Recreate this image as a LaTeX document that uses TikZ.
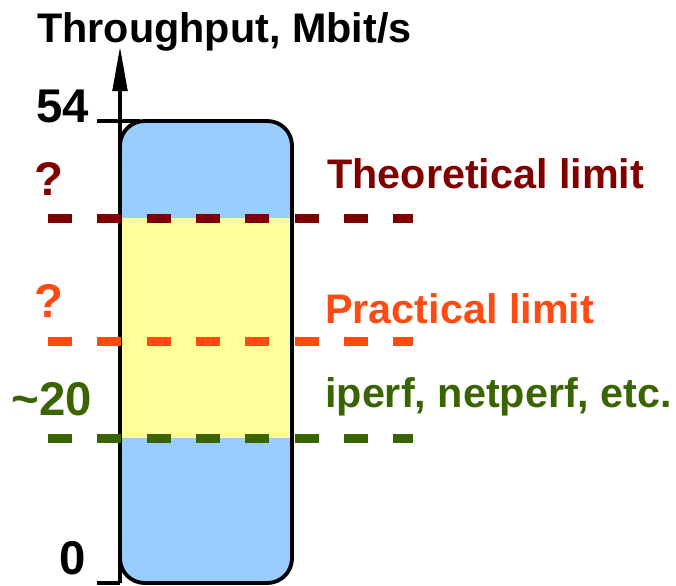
\documentclass[tikz,border=0pt]{standalone}
\usepackage{fontspec}
\setmainfont{Liberation Sans}
\usetikzlibrary{arrows.meta}
\definecolor{cTheo}{HTML}{800000}
\definecolor{cPrac}{HTML}{FF4A12}
\definecolor{cIperf}{HTML}{3A6400}
\definecolor{cBlue}{HTML}{99CCFF}
\definecolor{cYellow}{HTML}{FFFF99}
\begin{document}
\begin{tikzpicture}[x=0.75pt,y=-0.75pt,
  lbl/.style={font=\bfseries\fontsize{31}{36}\selectfont, inner sep=0pt},
  big/.style={font=\bfseries\fontsize{35.5}{42}\selectfont, inner sep=0pt},
  limitline/.style={line width=6.75pt, dash pattern=on 18pt off 19pt},
  axisline/.style={line width=2.4pt, black},
  barborder/.style={line width=2.9pt, rounded corners=18.5pt}]
\useasboundingbox (0,0) rectangle (676,586);
% bar
\fill[cBlue, rounded corners=18.5pt] (120,121) rectangle (292,583);
\fill[cYellow] (120,218) rectangle (292,438);
\draw[barborder] (120,121) rectangle (292,583);
% axis
\coordinate (axbot) at (120,583);
\coordinate (axtop) at (120,47);
\draw[axisline, -{Triangle[length=33pt,width=11pt]}] (axbot) -- (axtop);
\coordinate (t54a) at (97,121);
\coordinate (t54b) at (140,121);
\draw[axisline] (t54a) -- (t54b);
\coordinate (t0a) at (97,583);
\draw[axisline] (t0a) -- (axbot);
% limit lines
\coordinate (theoA) at (48,218);
\coordinate (theoB) at (413,218);
\coordinate (pracA) at (48,341);
\coordinate (pracB) at (413,341);
\coordinate (ipA) at (48,438);
\coordinate (ipB) at (413,438);
\draw[limitline, cTheo] (theoA) -- (theoB);
\draw[limitline, cPrac] (pracA) -- (pracB);
\draw[limitline, cIperf] (ipA) -- (ipB);
% texts
\node[lbl, anchor=base west] (title) at (37,42) {Throughput, Mbit/s};
\node[lbl, anchor=base west, text=cTheo] (theo) at (327,188) {Theoretical limit};
\node[lbl, anchor=base west, text=cPrac] (prac) at (325,323) {Practical limit};
\node[lbl, anchor=base west, text=cIperf] (iperf) at (325,407) {iperf, netperf, etc.};
\node[big, anchor=base east] (v54) at (89,122) {54};
\node[big, anchor=base west, text=cTheo] (q1) at (34,195) {?};
\node[big, anchor=base west, text=cPrac] (q2) at (34,317) {?};
\node[big, anchor=base east, text=cIperf] (v20) at (92,415) {\char"007E 20};
\node[big, anchor=base east] (v0) at (86,574) {0};
\end{tikzpicture}
\end{document}
